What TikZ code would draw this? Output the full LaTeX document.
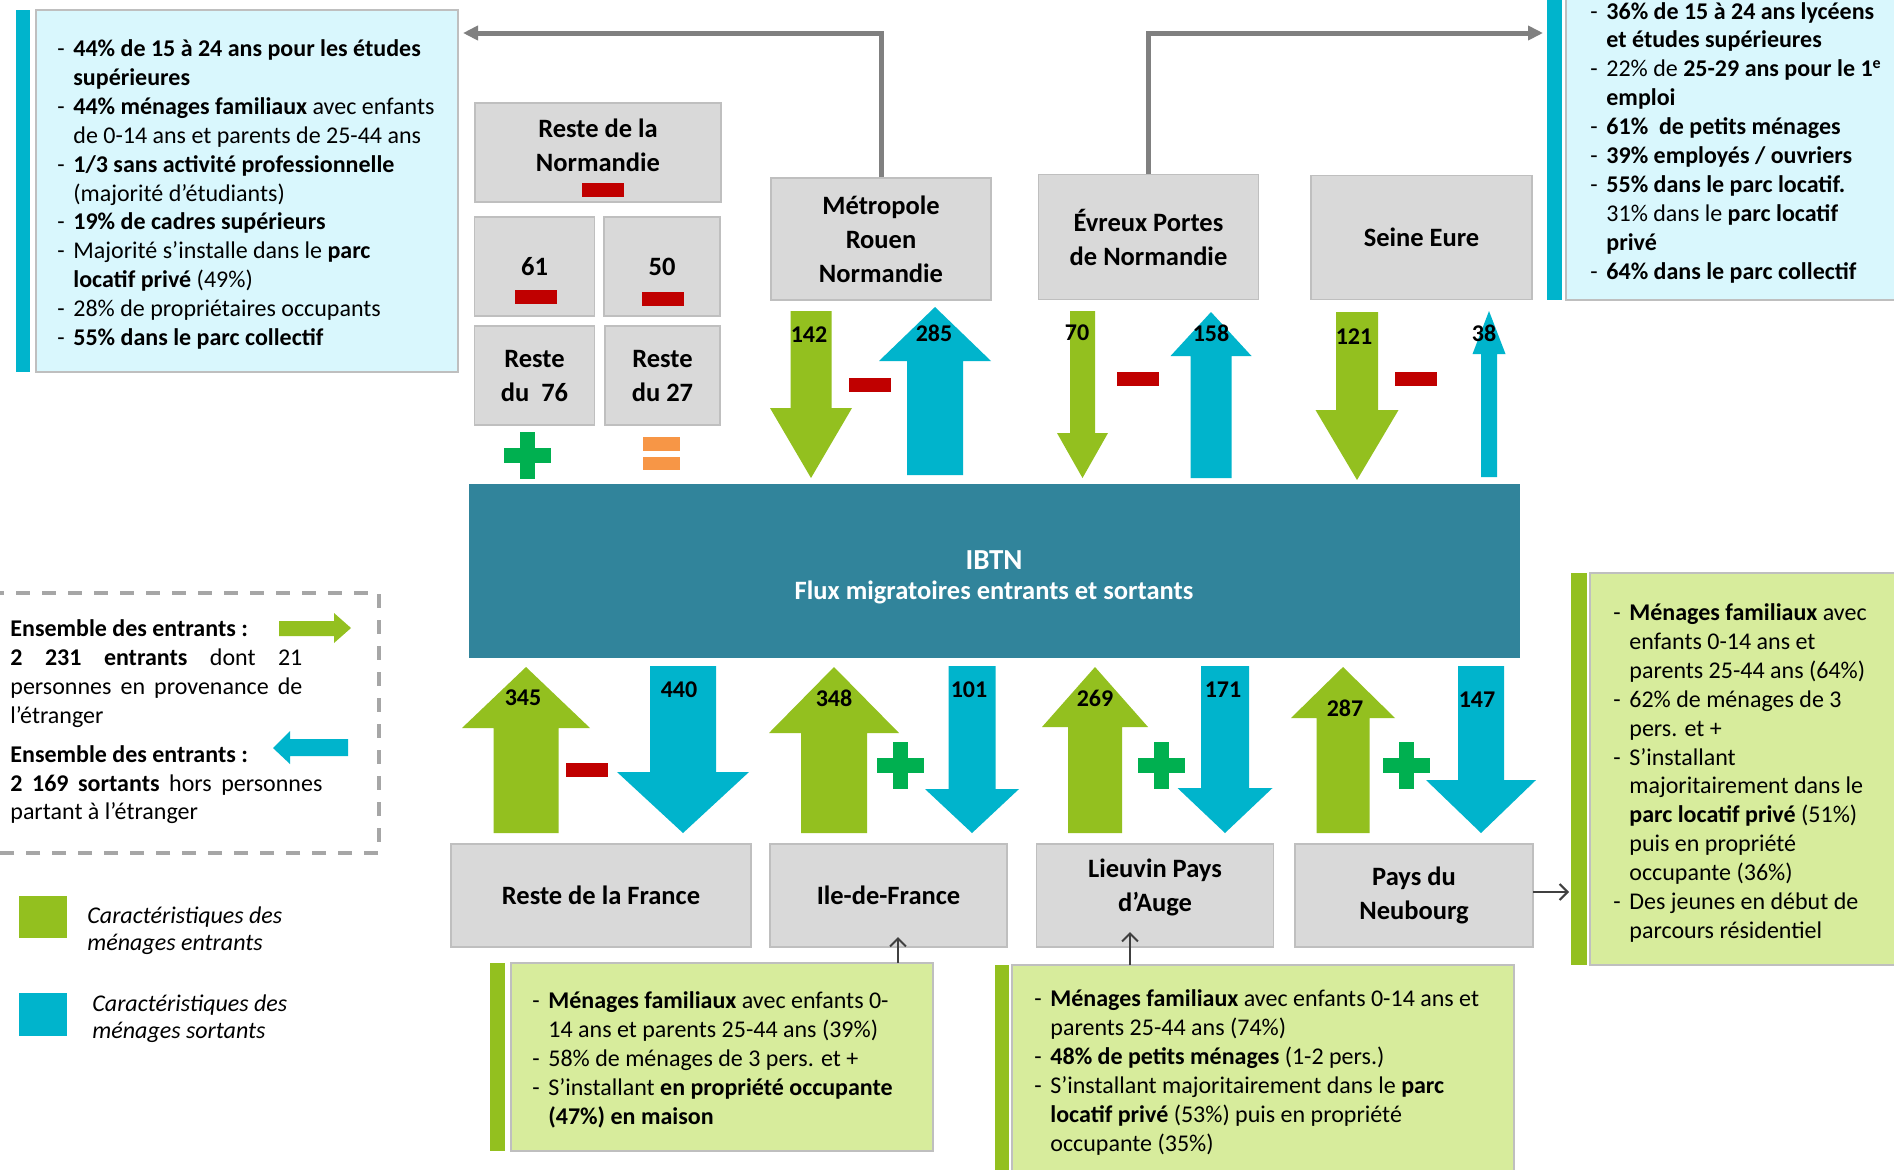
\documentclass[tikz,border=0pt]{standalone}
\usepackage{fontspec}
\setmainfont{Carlito}
\usetikzlibrary{arrows.meta}
\definecolor{agreen}{HTML}{93C01F}
\definecolor{acyan}{HTML}{00B4CC}
\definecolor{ibtnblue}{HTML}{31849B}
\definecolor{lcyan}{HTML}{D9F7FD}
\definecolor{lgreen}{HTML}{D7EC9C}
\definecolor{boxgray}{HTML}{D9D9D9}
\definecolor{boxborder}{HTML}{BFBFBF}
\definecolor{panelborder}{HTML}{BFBFBF}
\definecolor{minred}{HTML}{C00000}
\definecolor{plusgreen}{HTML}{00B050}
\definecolor{eqorange}{HTML}{F79646}
\definecolor{conngray}{HTML}{808080}
\definecolor{darkarr}{HTML}{404040}
\definecolor{dashgray}{HTML}{A6A6A6}
\newcommand{\blockarrow}[7]{\fill[#7] ({#1-#2},#6) -- ({#1-#2},#5) -- ({#1-#3},#5) -- (#1,#4) -- ({#1+#3},#5) -- ({#1+#2},#5) -- ({#1+#2},#6) -- cycle;}
\newcommand{\plusmark}[2]{\fill[plusgreen] ({#1-23.5},{#2-7.5}) rectangle ({#1+23.5},{#2+7.5}); \fill[plusgreen] ({#1-7.5},{#2-23.5}) rectangle ({#1+7.5},{#2+23.5});}
\newcommand{\minusmark}[2]{\fill[minred] ({#1-21},{#2-7}) rectangle ({#1+21},{#2+7});}
\newcommand{\pdash}{\makebox[8pt][l]{-}}
\newcommand{\pind}{\hspace*{8pt}}
\begin{document}
\begin{tikzpicture}[x=0.5pt,y=-0.5pt,
 region/.style={draw=boxborder, fill=boxgray, line width=0.7pt, inner sep=0pt, align=center, font=\fontsize{13.25}{17}\selectfont\bfseries},
 regtxt/.style={inner sep=0pt, align=center, font=\fontsize{13.25}{17}\selectfont\bfseries},
 num/.style={inner sep=0pt, font=\fontsize{12}{14}\selectfont\bfseries},
 txt/.style={anchor=base west, inner sep=0pt, font=\fontsize{12}{14.45}\selectfont},
 cpanel/.style={draw=panelborder, fill=lcyan, line width=0.6pt, inner sep=0pt},
 gpanel/.style={draw=panelborder, fill=lgreen, line width=0.6pt, inner sep=0pt},
 conn/.style={draw=conngray, line width=2.5pt, -{Triangle[length=7.5pt,width=7pt]}},
 smallarr/.style={draw=darkarr, line width=1pt, -{Straight Barb[length=4pt,width=8pt]}},
]
\clip (0,0) rectangle (1894,1169);
\fill[white] (0,0) rectangle (1894,1169);

% ---------- top-left panel
\fill[acyan] (16,10) rectangle (30,372);
\node[cpanel, minimum width=211pt, minimum height=181pt] (pTL) at (247,191) {};
\node[txt] (tTL) at (57,56.5) {\begin{tabular}[t]{@{}l@{}}
\pdash\textbf{44\% de 15 à 24 ans pour les études}\\
\pind\textbf{supérieures}\\
\pdash\textbf{44\% ménages familiaux} avec enfants\\
\pind de 0-14 ans et parents de 25-44 ans\\
\pdash\textbf{1/3 sans activité professionnelle}\\
\pind(majorité d’étudiants)\\
\pdash\textbf{19\% de cadres supérieurs}\\
\pdash Majorité s’installe dans le \textbf{parc}\\
\pind\textbf{locatif privé} (49\%)\\
\pdash 28\% de propriétaires occupants\\
\pdash\textbf{55\% dans le parc collectif}
\end{tabular}};

% ---------- top-right panel
\fill[acyan] (1547,-5) rectangle (1562,300);
\node[cpanel, minimum width=167pt, minimum height=152.5pt] (pTR) at (1733,147.5) {};
\node[txt] (tTR) at (1590,19) {\begin{tabular}[t]{@{}l@{}}
\pdash\textbf{36\% de 15 à 24 ans lycéens}\\
\pind\textbf{et études supérieures}\\
\pdash 22\% de \textbf{25-29 ans pour le 1\textsuperscript{e}}\\
\pind\textbf{emploi}\\
\pdash\textbf{61\%\ \ de petits ménages}\\
\pdash\textbf{39\% employés / ouvriers}\\
\pdash\textbf{55\% dans le parc locatif.}\\
\pind 31\% dans le \textbf{parc locatif}\\
\pind\textbf{privé}\\
\pdash\textbf{64\% dans le parc collectif}
\end{tabular}};

% ---------- right panel
\fill[agreen] (1571,573) rectangle (1587,965);
\node[gpanel, minimum width=155pt, minimum height=196pt] (pR) at (1745,769) {};
\node[txt] (tR) at (1613,620.5) {\begin{tabular}[t]{@{}l@{}}
\pdash\textbf{Ménages familiaux} avec\\
\pind enfants 0-14 ans et\\
\pind parents 25-44 ans (64\%)\\
\pdash 62\% de ménages de 3\\
\pind pers. et +\\
\pdash S’installant\\
\pind majoritairement dans le\\
\pind\textbf{parc locatif privé} (51\%)\\
\pind puis en propriété\\
\pind occupante (36\%)\\
\pdash Des jeunes en début de\\
\pind parcours résidentiel
\end{tabular}};

% ---------- bottom-left panel
\fill[agreen] (490,963) rectangle (505,1151);
\node[gpanel, minimum width=211pt, minimum height=94pt] (pBL) at (722,1057) {};
\node[txt] (tBL) at (532,1008.5) {\begin{tabular}[t]{@{}l@{}}
\pdash\textbf{Ménages familiaux} avec enfants 0-\\
\pind 14 ans et parents 25-44 ans (39\%)\\
\pdash 58\% de ménages de 3 pers. et +\\
\pdash S’installant \textbf{en propriété occupante}\\
\pind\textbf{(47\%) en maison}
\end{tabular}};

% ---------- bottom-right panel
\fill[agreen] (995,965) rectangle (1009,1180);
\node[gpanel, minimum width=251pt, minimum height=107.5pt] (pBR) at (1263,1072.5) {};
\node[txt] (tBR) at (1034,1006.5) {\begin{tabular}[t]{@{}l@{}}
\pdash\textbf{Ménages familiaux} avec enfants 0-14 ans et\\
\pind parents 25-44 ans (74\%)\\
\pdash\textbf{48\% de petits ménages} (1-2 pers.)\\
\pdash S’installant majoritairement dans le \textbf{parc}\\
\pind\textbf{locatif privé} (53\%) puis en propriété\\
\pind occupante (35\%)
\end{tabular}};

% ---------- legend
\draw[dashgray, line width=2pt, dash pattern=on 7pt off 6pt] (-10,593) -- (379,593) -- (379,853) -- (-10,853);
\node[txt] (leg) at (10,636.5) {\begin{tabular}[t]{@{}l@{}}
\textbf{Ensemble des entrants :}\\
\makebox[146pt][s]{\textbf{2 231 entrants} dont 21}\\
\makebox[146pt][s]{personnes en provenance de}\\
l’étranger\\[5pt]
\textbf{Ensemble des entrants :}\\
\makebox[156pt][s]{\textbf{2 169 sortants} hors personnes}\\
partant à l’étranger
\end{tabular}};
\fill[agreen] (279,621) -- (334,621) -- (334,613) -- (351,628) -- (334,643) -- (334,636) -- (279,636) -- cycle;
\fill[acyan] (348,739) -- (290,739) -- (290,731) -- (273,748) -- (290,764) -- (290,756) -- (348,756) -- cycle;
\fill[agreen] (19,896) rectangle (67,938);
\fill[acyan] (19,993) rectangle (67,1036);
\node[txt, font=\fontsize{12}{13.5}\selectfont\itshape] (legA) at (87,923) {\begin{tabular}[t]{@{}l@{}}Caractéristiques des\\ménages entrants\end{tabular}};
\node[txt, font=\fontsize{12}{13.5}\selectfont\itshape] (legB) at (92,1011) {\begin{tabular}[t]{@{}l@{}}Caractéristiques des\\ménages sortants\end{tabular}};

% ---------- IBTN bar
\node[fill=ibtnblue, minimum width=525.5pt, minimum height=87pt, inner sep=0pt] (ibtn) at (994.5,571) {};
\node[anchor=base, text=white, font=\fontsize{14.5}{16}\selectfont\bfseries, inner sep=0pt] (ibtnT) at (994,569) {IBTN};
\node[anchor=base, text=white, font=\fontsize{13.25}{16}\selectfont\bfseries, inner sep=0pt] (ibtnS) at (994,599.5) {Flux migratoires entrants et sortants};

% ---------- region boxes (top)
\node[region, minimum width=123pt, minimum height=49.5pt] (rnorm) at (598,152.5) {};
\node[regtxt] (rnormT) at (598,145) {Reste de la\\Normandie};
\node[region, minimum width=60pt, minimum height=49.5pt] (n61) at (534.5,266.5) {};
\node[regtxt] (n61T) at (534.5,267) {61};
\node[region, minimum width=58pt, minimum height=49.5pt] (n50) at (662,266.5) {};
\node[regtxt] (n50T) at (662,267) {50};
\node[region, minimum width=60pt, minimum height=49.5pt] (r76) at (534.5,375.5) {Reste\\du\ \ 76};
\node[region, minimum width=57.5pt, minimum height=49.5pt] (r27) at (662.5,375.5) {Reste\\du 27};
\node[region, minimum width=110pt, minimum height=61pt] (metro) at (881,239) {Métropole\\Rouen\\Normandie};
\node[region, minimum width=110pt, minimum height=62.5pt] (evreux) at (1148.5,237) {Évreux Portes\\de Normandie};
\node[region, minimum width=110.5pt, minimum height=62pt] (seine) at (1421.5,237.5) {Seine Eure};

% ---------- region boxes (bottom)
\node[region, minimum width=150pt, minimum height=51.5pt] (rfrance) at (601,895.5) {Reste de la France};
\node[region, minimum width=118.5pt, minimum height=51.5pt] (idf) at (888.5,895.5) {Ile-de-France};
\node[region, minimum width=118.5pt, minimum height=51.5pt] (lieuvin) at (1155,895.5) {};
\node[regtxt] (lieuvinT) at (1155,887.5) {Lieuvin Pays\\d’Auge};
\node[region, minimum width=119pt, minimum height=51.5pt] (neub) at (1414,895.5) {Pays du\\Neubourg};

% ---------- signs
\minusmark{603}{190}
\minusmark{535.5}{297}
\minusmark{663}{299}
\plusmark{527}{455}
\fill[eqorange] (643,437) rectangle (680,451);
\fill[eqorange] (643,457) rectangle (680,470);

% ---------- top arrows
\blockarrow{811}{20.5}{41}{478}{408}{311}{agreen}
\blockarrow{935}{28}{56}{307}{361}{475}{acyan}
\blockarrow{1082.5}{12.5}{25.5}{478}{433}{311}{agreen}
\blockarrow{1211}{20.5}{40.5}{312}{356}{478}{acyan}
\blockarrow{1357}{21}{41.5}{480}{410}{312}{agreen}
\blockarrow{1489}{8}{16.5}{311}{354}{477}{acyan}
\minusmark{870}{385}
\minusmark{1137.5}{379}
\minusmark{1415.5}{378.5}
\node[num] (l142) at (809,335) {142};
\node[num] (l285) at (934,333) {285};
\node[num] (l70) at (1077,333) {70};
\node[num] (l158) at (1211,333) {158};
\node[num] (l121) at (1354,337) {121};
\node[num] (l38) at (1484,333) {38};

% ---------- bottom arrows
\blockarrow{526}{32.5}{64}{667}{728}{833}{agreen}
\blockarrow{683}{33}{66}{833}{772}{666}{acyan}
\blockarrow{834}{33}{65}{667}{733}{833}{agreen}
\blockarrow{972}{23.5}{47}{833}{789}{666}{acyan}
\blockarrow{1095}{27}{53}{667}{727}{833}{agreen}
\blockarrow{1225}{24}{47.5}{833}{788}{666}{acyan}
\blockarrow{1343}{26.5}{52}{667}{718}{833}{agreen}
\blockarrow{1481}{23}{55}{833}{780}{666}{acyan}
\minusmark{587}{769.5}
\plusmark{900}{765}
\plusmark{1161.5}{765}
\plusmark{1406.5}{765}
\node[num] (l345) at (523,698) {345};
\node[num] (l440) at (679,690) {440};
\node[num] (l348) at (834,698) {348};
\node[num] (l101) at (969,690) {101};
\node[num] (l269) at (1095,698) {269};
\node[num] (l171) at (1223,690) {171};
\node[num] (l287) at (1345,708) {287};
\node[num] (l147) at (1477,700) {147};

% ---------- connectors
\coordinate (tipL) at (463,33);
\coordinate (tipR) at (1543,33);
\draw[conn] (metro.north) |- (tipL);
\draw[conn] (evreux.north) |- (tipR);
\coordinate (s1) at (898,963); \coordinate (e1) at (898,937);
\coordinate (s2) at (1130,965); \coordinate (e2) at (1130,932);
\coordinate (s3) at (1533,892); \coordinate (e3) at (1569,892);
\draw[smallarr] (s1) -- (e1);
\draw[smallarr] (s2) -- (e2);
\draw[smallarr] (s3) -- (e3);
\end{tikzpicture}
\end{document}
